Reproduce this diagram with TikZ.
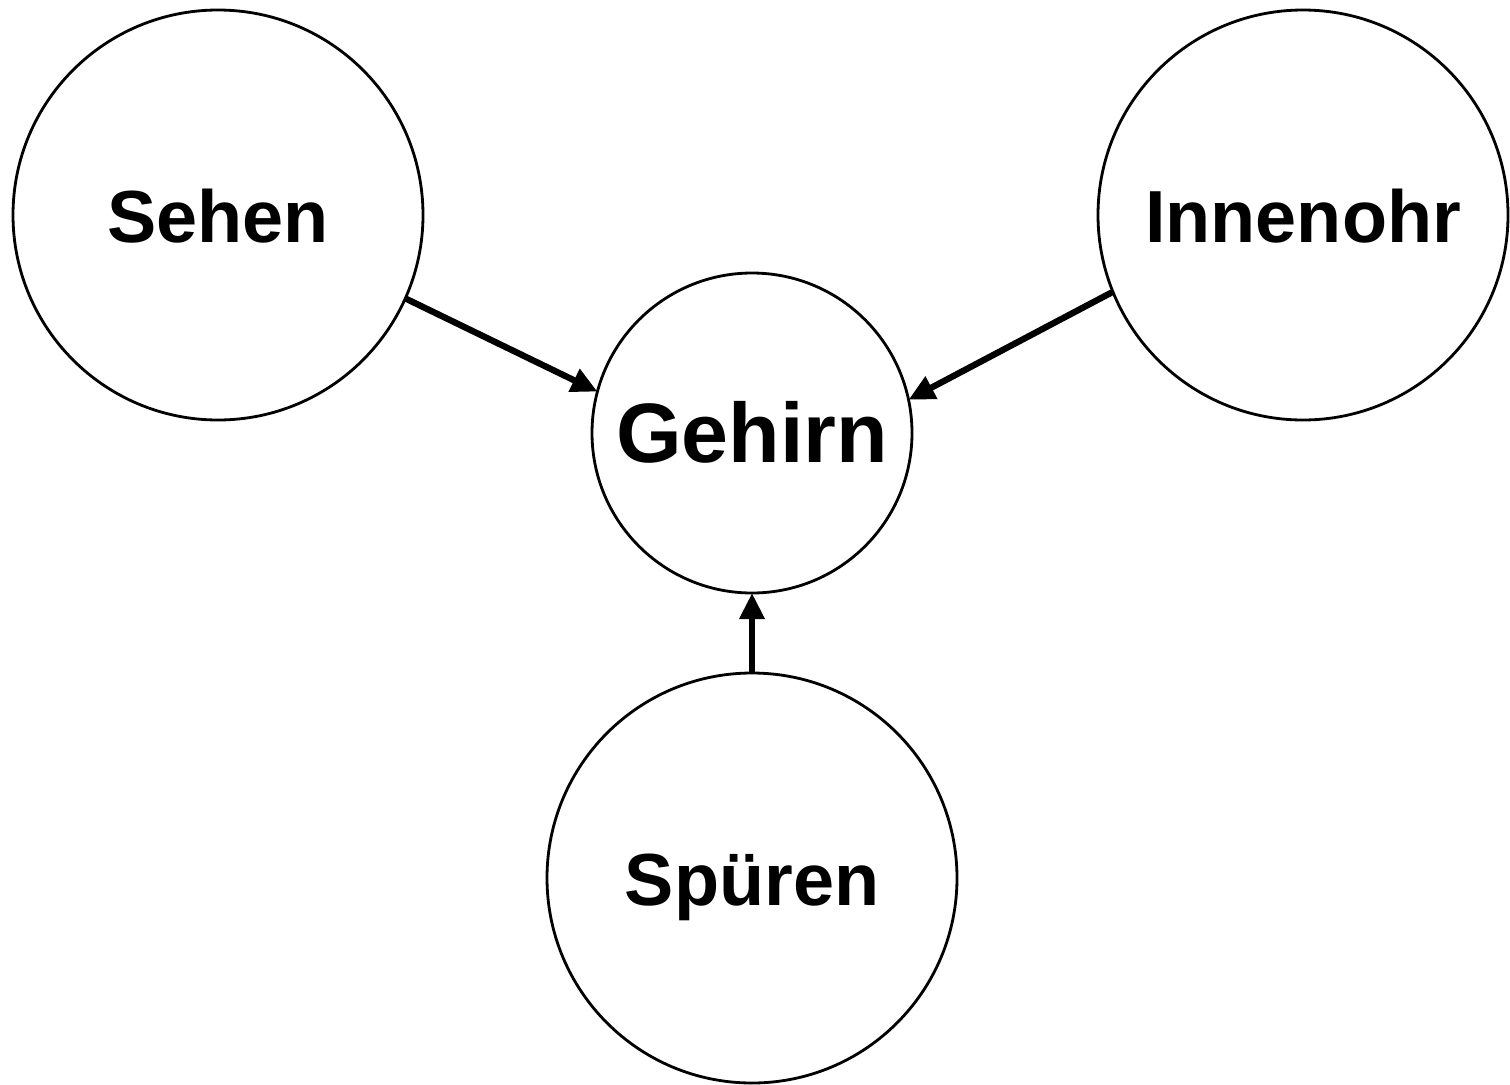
\documentclass[tikz,border=0pt]{standalone}
\usepackage{fontspec}
\setmainfont{Liberation Sans}
\usetikzlibrary{arrows.meta}

\begin{document}
\begin{tikzpicture}[
    sense/.style={draw, circle, line width=0.8pt, minimum size=4.1cm, inner sep=0pt, outer sep=0pt,
                  text height=0.54cm, text depth=0cm, font=\fontsize{21}{25}\selectfont\bfseries},
    centre/.style={sense, minimum size=3.2cm, text height=0.58cm, font=\fontsize{24}{29}\selectfont\bfseries},
    feed/.style={line width=1.8pt, -{Triangle[length=0.26cm, width=0.24cm]}}
  ]
  \useasboundingbox (0,0) rectangle (15.10,10.84);

  % Brain in the middle
  \node[centre] (gehirn) at (7.52,6.51) {Gehirn};

  % Senses
  \node[sense] (sehen) at (2.18,8.69) {Sehen};
  \node[sense] (innenohr) at (13.03,8.69) {Innenohr};
  \node[sense] (spueren) at (7.52,2.06) {Spüren};

  % Inputs
  \draw[feed] (sehen.-24) -- (gehirn.165);
  \draw[feed] (innenohr.-158) -- (gehirn.12);
  \draw[feed] (spueren.north) -- (gehirn.south);
\end{tikzpicture}
\end{document}
